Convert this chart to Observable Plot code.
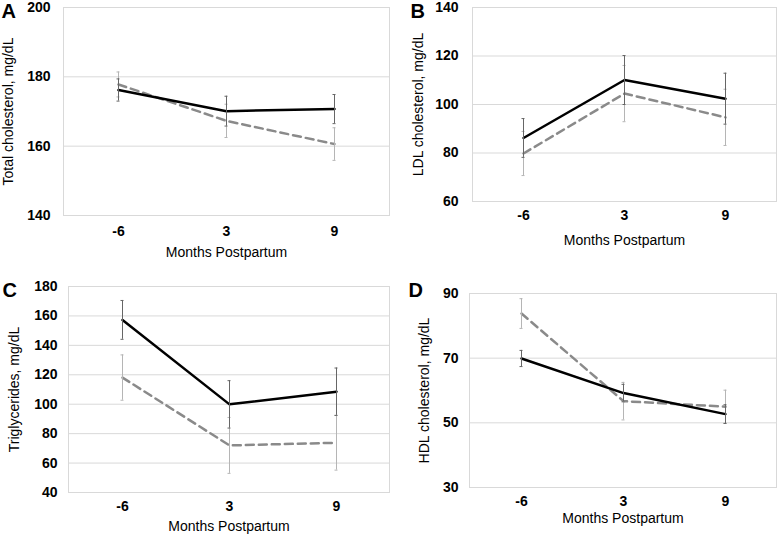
<!DOCTYPE html>
<html>
<head>
<meta charset="utf-8">
<script src="https://cdn.jsdelivr.net/npm/d3@7"></script>
<script src="https://cdn.jsdelivr.net/npm/@observablehq/plot@0.6"></script>
<style>
  body { margin: 0; background: #fff; }
  #root { position: relative; width: 777px; height: 535px; font-family: "Liberation Sans", Arial, sans-serif; }
  .panel { position: absolute; }
</style>
</head>
<body>
<div id="root"></div>
<script>
const months = ["-6", "3", "9"];
const xLabel = "Months Postpartum";

// Panel A: total cholesterol
const totalSolid = [176.2, 170.1, 170.7];
const totalSolidErr = [3.2, 4.3, 4.2];
const totalDashed = [177.8, 167.3, 160.6];
const totalDashedErr = [3.6, 4.8, 4.7];
const totalTicks = [140, 160, 180, 200];

// Panel B: LDL cholesterol
const ldlSolid = [86.2, 110.1, 102.4];
const ldlSolidErr = [8.0, 10.1, 10.5];
const ldlDashed = [79.8, 104.5, 94.7];
const ldlDashedErr = [9.1, 11.6, 11.6];
const ldlTicks = [60, 80, 100, 120, 140];

// Panel C: triglycerides
const tgSolid = [157.3, 99.9, 108.5];
const tgSolidErr = [13.2, 16.1, 16.1];
const tgDashed = [118.1, 72.0, 73.8];
const tgDashedErr = [15.4, 19.0, 18.6];
const tgTicks = [40, 60, 80, 100, 120, 140, 160, 180];

// Panel D: HDL cholesterol
const hdlSolid = [69.9, 59.2, 52.7];
const hdlSolidErr = [2.5, 2.7, 2.9];
const hdlDashed = [83.8, 56.7, 55.0];
const hdlDashedErr = [4.6, 5.8, 5.1];
const hdlTicks = [30, 50, 70, 90];

function rows(vals, errs) {
  return months.map((m, i) => ({month: m, v: vals[i], lo: vals[i] - errs[i], hi: vals[i] + errs[i]}));
}

function errMarks(data, color) {
  return [
    Plot.ruleX(data, {x: "month", y1: "lo", y2: "hi", stroke: color, strokeWidth: 1}),
    Plot.ruleY(data, {y: "lo", x1: "month", x2: "month", stroke: color, strokeWidth: 1, insetLeft: -1.5, insetRight: -1.5}),
    Plot.ruleY(data, {y: "hi", x1: "month", x2: "month", stroke: color, strokeWidth: 1, insetLeft: -1.5, insetRight: -1.5})
  ];
}

function panel(cfg) {
  const solid = rows(cfg.solid, cfg.solidErr);
  const dashed = rows(cfg.dashed, cfg.dashedErr);
  const gridColor = "#d9d9d9";
  const chart = Plot.plot({
    width: cfg.width,
    height: cfg.height,
    marginLeft: cfg.ml,
    marginRight: 1,
    marginTop: cfg.mt,
    marginBottom: cfg.mb,
    style: {fontFamily: "'Liberation Sans', Arial, sans-serif", fontSize: "14px", color: "#000", background: "transparent", overflow: "visible"},
    x: {type: "point", domain: months, padding: 0.5, label: null},
    y: {domain: [cfg.ticks[0], cfg.ticks[cfg.ticks.length - 1]], label: null},
    marks: [
      Plot.gridY(cfg.ticks, {stroke: gridColor, strokeOpacity: 1}),
      Plot.frame({stroke: gridColor, strokeOpacity: 1}),
      Plot.axisY(cfg.ticks, {tickSize: 0, tickPadding: cfg.yPad, fontWeight: "bold", fontSize: 14, label: null}),
      Plot.axisX({tickSize: 0, tickPadding: cfg.xPad, fontWeight: "bold", fontSize: 14, label: null}),
      Plot.line(dashed, {x: "month", y: "v", stroke: "#8a8a8a", strokeWidth: 2.5, strokeDasharray: "8,5"}),
      ...errMarks(dashed, "#b5b5b5"),
      Plot.line(solid, {x: "month", y: "v", stroke: "#000", strokeWidth: 2.5}),
      ...errMarks(solid, "#666"),
      Plot.text([cfg.yLabel], {frameAnchor: "left", dx: -cfg.yLabelOff, rotate: -90, textAnchor: "middle", lineAnchor: "middle", fontSize: 14, fill: "#000"}),
      Plot.text([xLabel], {frameAnchor: "bottom", dy: cfg.xLabelOff, textAnchor: "middle", lineAnchor: "middle", fontSize: 14, fill: "#000"}),
      Plot.text([cfg.letter], {frameAnchor: "top-left", dx: cfg.letterDx, dy: cfg.letterDy, fontSize: 20, fontWeight: "bold", textAnchor: "start", lineAnchor: "top", fill: "#000"})
    ]
  });
  chart.classList.add("panel");
  chart.style.left = cfg.left + "px";
  chart.style.top = cfg.top + "px";
  document.getElementById("root").appendChild(chart);
}

panel({letter: "A", left: 0, top: 0, width: 390, height: 268, ml: 63, mt: 7, mb: 53,
  solid: totalSolid, solidErr: totalSolidErr, dashed: totalDashed, dashedErr: totalDashedErr,
  ticks: totalTicks, yLabel: "Total cholesterol, mg/dL", yPad: 13, xPad: 11, yLabelOff: 55, xLabelOff: 37,
  letterDx: -62, letterDy: -4});

panel({letter: "B", left: 390, top: 0, width: 387, height: 268, ml: 82, mt: 7, mb: 67,
  solid: ldlSolid, solidErr: ldlSolidErr, dashed: ldlDashed, dashedErr: ldlDashedErr,
  ticks: ldlTicks, yLabel: "LDL cholesterol, mg/dL", yPad: 14, xPad: 9, yLabelOff: 54, xLabelOff: 39,
  letterDx: -62, letterDy: -4});

panel({letter: "C", left: 0, top: 270, width: 390, height: 265, ml: 68, mt: 16, mb: 43,
  solid: tgSolid, solidErr: tgSolidErr, dashed: tgDashed, dashedErr: tgDashedErr,
  ticks: tgTicks, yLabel: "Triglycerides, mg/dL", yPad: 11, xPad: 9, yLabelOff: 54, xLabelOff: 34,
  letterDx: -66, letterDy: -4});

panel({letter: "D", left: 390, top: 270, width: 387, height: 265, ml: 79, mt: 23, mb: 48,
  solid: hdlSolid, solidErr: hdlSolidErr, dashed: hdlDashed, dashedErr: hdlDashedErr,
  ticks: hdlTicks, yLabel: "HDL cholesterol, mg/dL", yPad: 11, xPad: 9, yLabelOff: 45, xLabelOff: 31,
  letterDx: -61, letterDy: -11});
</script>
</body>
</html>
